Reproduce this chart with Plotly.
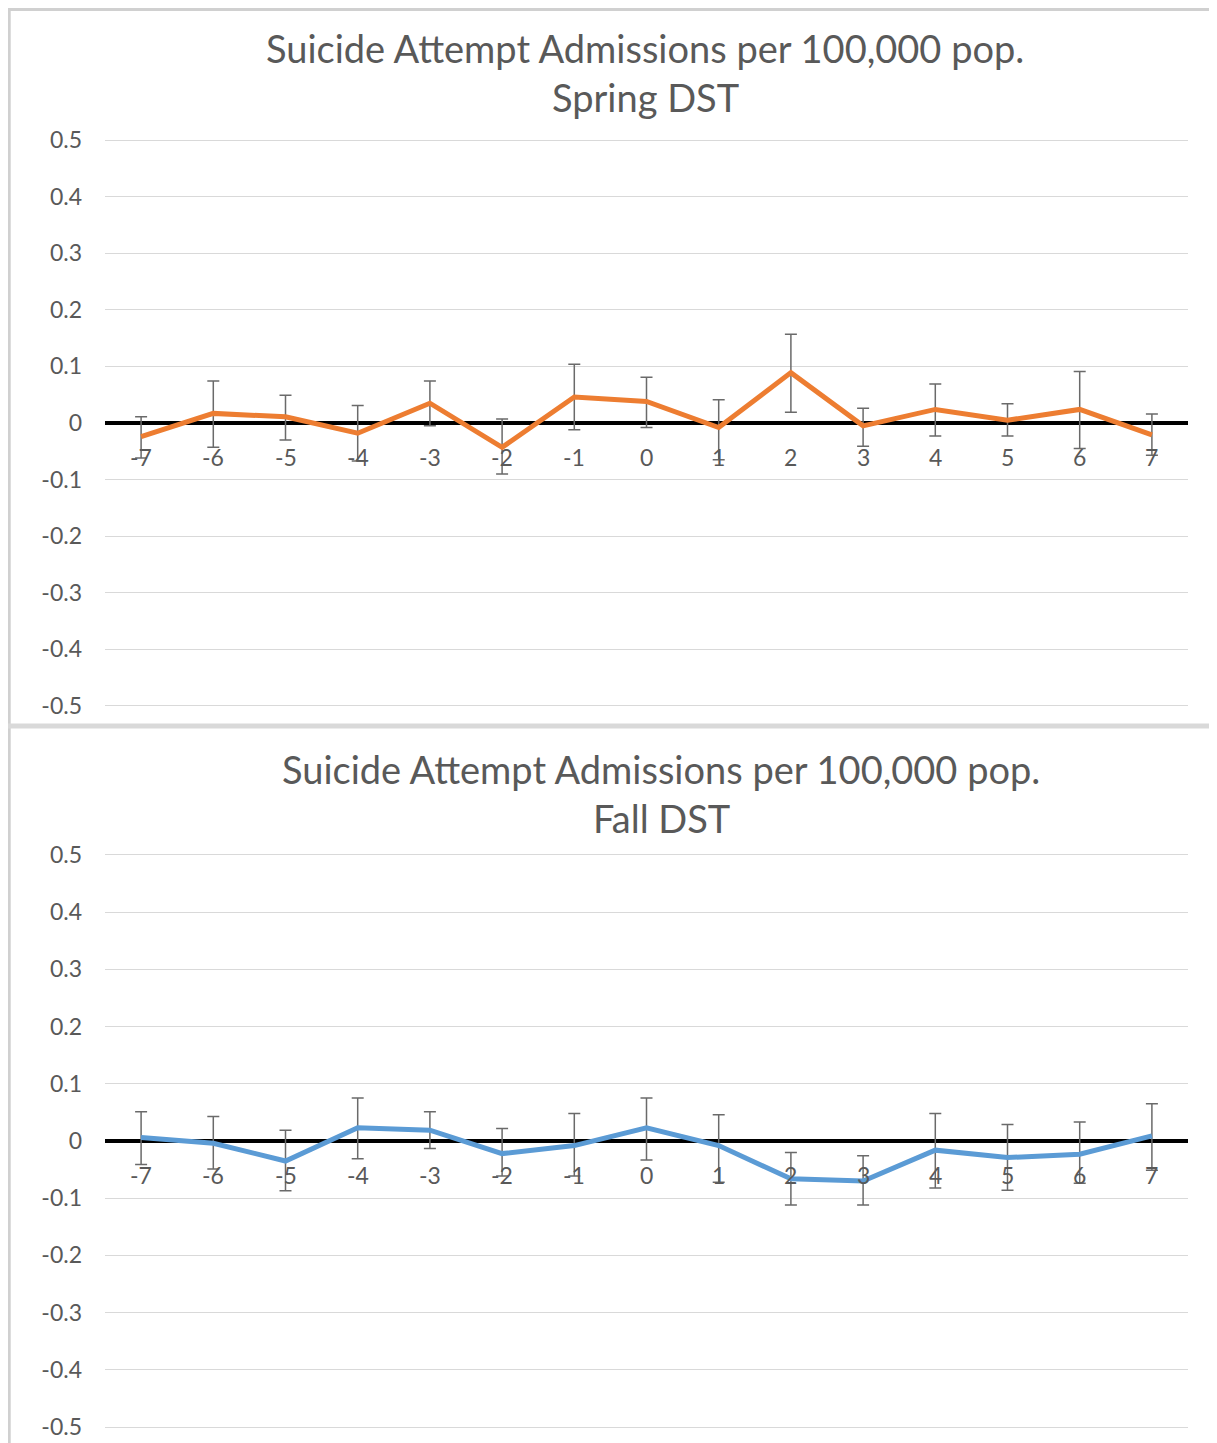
import plotly.graph_objects as go

days = [-7, -6, -5, -4, -3, -2, -1, 0, 1, 2, 3, 4, 5, 6, 7]
day_labels = ["-7", "-6", "-5", "-4", "-3", "-2", "-1", "0", "1", "2", "3", "4", "5", "6", "7"]

spring_vals = [-0.024, 0.017, 0.011, -0.018, 0.035, -0.043, 0.046, 0.038, -0.008, 0.089, -0.005, 0.024, 0.005, 0.024, -0.021]
spring_err_plus = [0.035, 0.057, 0.038, 0.049, 0.039, 0.050, 0.058, 0.043, 0.049, 0.068, 0.031, 0.045, 0.029, 0.067, 0.037]
spring_err_minus = [0.038, 0.060, 0.041, 0.049, 0.040, 0.047, 0.058, 0.046, 0.057, 0.070, 0.036, 0.047, 0.028, 0.069, 0.036]

fall_vals = [0.006, -0.004, -0.035, 0.023, 0.019, -0.022, -0.008, 0.023, -0.008, -0.066, -0.070, -0.016, -0.029, -0.023, 0.009]
fall_err_plus = [0.045, 0.047, 0.054, 0.052, 0.032, 0.044, 0.056, 0.052, 0.054, 0.046, 0.044, 0.064, 0.058, 0.056, 0.056]
fall_err_minus = [0.047, 0.045, 0.052, 0.054, 0.032, 0.039, 0.053, 0.056, 0.064, 0.046, 0.042, 0.066, 0.057, 0.051, 0.060]

y_ticks = [0.5, 0.4, 0.3, 0.2, 0.1, 0, -0.1, -0.2, -0.3, -0.4, -0.5]
y_tick_text = ["0.5", "0.4", "0.3", "0.2", "0.1", "0", "-0.1", "-0.2", "-0.3", "-0.4", "-0.5"]

title_line1 = "Suicide Attempt Admissions per 100,000 pop."
spring_title2 = "Spring DST"
fall_title2 = "Fall DST"

W, H = 1217, 1443
OFF = 8  # page body margin
FONT = "Lato"
TXT = "#595959"

def py(px):
    return 1 - (px - OFF) / H

def px_x(px):
    return (px - OFF) / W

fig = go.Figure()

fig.add_trace(go.Scatter(
    x=days, y=spring_vals, mode="lines", xaxis="x", yaxis="y",
    line=dict(color="#ED7D31", width=5),
    error_y=dict(type="data", symmetric=False, array=spring_err_plus, arrayminus=spring_err_minus,
                 color="#6a6a6a", thickness=1.5, width=6),
    showlegend=False, hoverinfo="skip"))

fig.add_trace(go.Scatter(
    x=days, y=fall_vals, mode="lines", xaxis="x2", yaxis="y2",
    line=dict(color="#5B9BD5", width=5),
    error_y=dict(type="data", symmetric=False, array=fall_err_plus, arrayminus=fall_err_minus,
                 color="#6a6a6a", thickness=1.5, width=6),
    showlegend=False, hoverinfo="skip"))

x_dom = [px_x(105), px_x(1188)]
yax_common = dict(range=[-0.505, 0.505], tickvals=y_ticks, ticktext=y_tick_text,
                  showgrid=True, gridcolor="#d9d9d9", gridwidth=1,
                  zeroline=True, zerolinecolor="#000000", zerolinewidth=4,
                  showline=False, ticks="", ticklabelstandoff=22, automargin=False,
                  tickfont=dict(family=FONT, size=23, color=TXT), fixedrange=True)
xax_common = dict(range=[-7.5, 7.5], domain=x_dom, showgrid=False, zeroline=False,
                  showticklabels=False, showline=False, ticks="", fixedrange=True, automargin=False)

fig.update_layout(
    width=W, height=H,
    margin=dict(l=0, r=0, t=0, b=0, pad=0, autoexpand=False),
    paper_bgcolor="white", plot_bgcolor="white",
    xaxis=dict(**xax_common, anchor="y"),
    yaxis=dict(**yax_common, domain=[py(708.8), py(137.2)], anchor="x"),
    xaxis2=dict(**xax_common, anchor="y2"),
    yaxis2=dict(**yax_common, domain=[py(1429.9), py(852.1)], anchor="x2"),
)

annotations = []
for xr, yr in (("x", "y"), ("x2", "y2")):
    for d, lab in zip(days, day_labels):
        annotations.append(dict(x=d, y=0, xref=xr, yref=yr, text=lab, showarrow=False,
                                yanchor="middle", yshift=-34,
                                font=dict(family=FONT, size=23, color=TXT)))

annotations += [
    dict(x=px_x(645), y=py(48), xref="paper", yref="paper", text=title_line1, showarrow=False,
         xanchor="center", yanchor="middle", font=dict(family=FONT, size=38, color=TXT)),
    dict(x=px_x(645), y=py(97), xref="paper", yref="paper", text=spring_title2, showarrow=False,
         xanchor="center", yanchor="middle", font=dict(family=FONT, size=38, color=TXT)),
    dict(x=px_x(661), y=py(769), xref="paper", yref="paper", text=title_line1, showarrow=False,
         xanchor="center", yanchor="middle", font=dict(family=FONT, size=38, color=TXT)),
    dict(x=px_x(661), y=py(818), xref="paper", yref="paper", text=fall_title2, showarrow=False,
         xanchor="center", yanchor="middle", font=dict(family=FONT, size=38, color=TXT)),
]
fig.update_layout(annotations=annotations)

shapes = [
    dict(type="line", xref="paper", yref="paper", x0=0.001, x1=0.001, y0=0, y1=1,
         line=dict(color="#d0d0d0", width=3)),
    dict(type="line", xref="paper", yref="paper", x0=0, x1=1, y0=0.999, y1=0.999,
         line=dict(color="#d0d0d0", width=3)),
    dict(type="line", xref="paper", yref="paper", x0=0, x1=1, y0=py(726), y1=py(726),
         line=dict(color="#d9d9d9", width=5)),
]
fig.update_layout(shapes=shapes)

fig.write_html("out.html")
